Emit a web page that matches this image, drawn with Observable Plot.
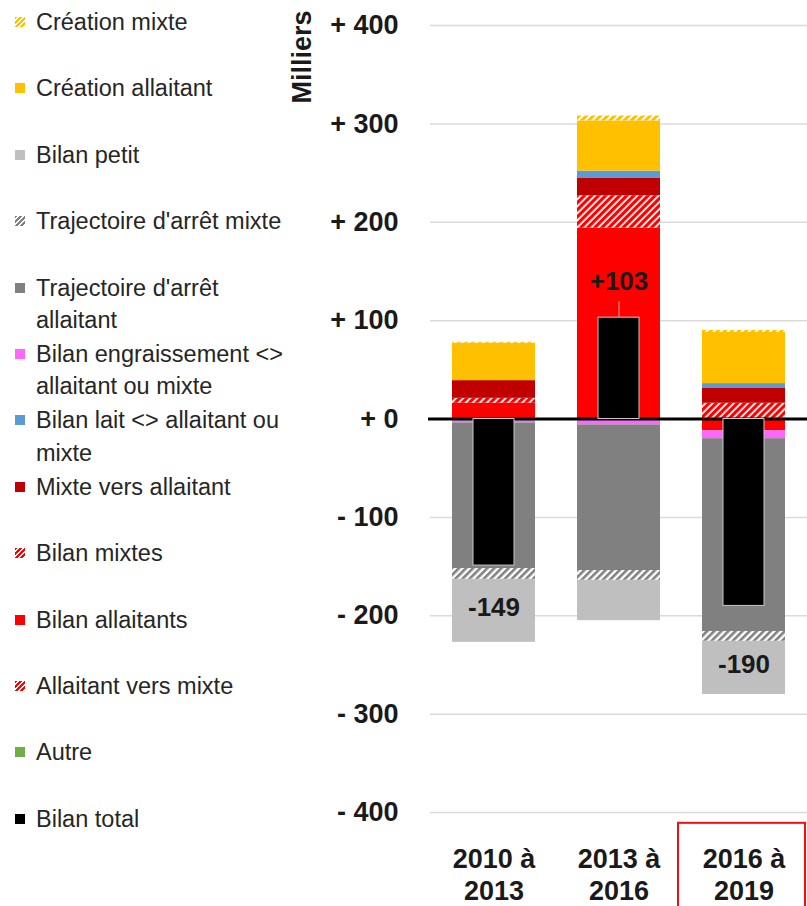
<!DOCTYPE html>
<html>
<head>
<meta charset="utf-8">
<script src="https://cdn.jsdelivr.net/npm/d3@7"></script>
<script src="https://cdn.jsdelivr.net/npm/@observablehq/plot@0.6"></script>
<style>
  html, body { margin: 0; padding: 0; background: #fff; overflow: hidden; }
  #wrap { position: relative; width: 807px; height: 906px; font-family: "Liberation Sans", Arial, sans-serif; }
  #chart { position: absolute; left: 0; top: 0; }
  #legend { position: absolute; left: 0; top: 6px; width: 290px; z-index: 2; }
  .item { position: relative; height: 66.4px; }
  .sw { position: absolute; left: 15px; top: 11px; width: 10px; height: 10px; }
  .lb { position: absolute; left: 36px; top: 0; font-size: 23.5px; line-height: 32.5px; color: #262626; white-space: pre; }
</style>
</head>
<body>
<div id="wrap">
  <div id="chart"></div>
  <div id="legend"></div>
</div>
<script>
// ---- Data (milliers) ----
const periods = ["2010 à 2013", "2013 à 2016", "2016 à 2019"];
const autre              = [0, 0, 0];
const allaitantVersMixte = [0, 0, 0];
const bilanAllaitants    = [16, 194, -12];
const bilanMixtes        = [5, 33, 16];
const mixteVersAllaitant = [18, 18, 15];
const bilanLait          = [-2, 7, 5];
const bilanEngraissement = [-2, -6, -8];
const trajArretAllaitant = [-148, -148, -196];
const trajArretMixte     = [-11, -10, -10];
const bilanPetit         = [-64, -41, -54];
const creationAllaitant  = [38, 51, 52];
const creationMixte      = [1, 5, 2];
const bilanTotal         = [-149, 103, -190];
const yTicks = [-400, -300, -200, -100, 0, 100, 200, 300, 400];
const highlighted = ["2016 à 2019"];
const highlightY = [-411, -500];

// stacking order (first = nearest zero)
const seriesNames = [
  "Autre", "Allaitant vers mixte", "Bilan allaitants", "Bilan mixtes",
  "Mixte vers allaitant", "Bilan lait <> allaitant ou mixte",
  "Bilan engraissement <> allaitant ou mixte", "Trajectoire d'arrêt allaitant",
  "Trajectoire d'arrêt mixte", "Bilan petit", "Création allaitant", "Création mixte"
];
const seriesValues = [
  autre, allaitantVersMixte, bilanAllaitants, bilanMixtes, mixteVersAllaitant,
  bilanLait, bilanEngraissement, trajArretAllaitant, trajArretMixte, bilanPetit,
  creationAllaitant, creationMixte
];

// legend (top to bottom)
const legendNames = [
  "Création mixte", "Création allaitant", "Bilan petit", "Trajectoire d'arrêt mixte",
  "Trajectoire d'arrêt allaitant", "Bilan engraissement <> allaitant ou mixte",
  "Bilan lait <> allaitant ou mixte", "Mixte vers allaitant", "Bilan mixtes",
  "Bilan allaitants", "Allaitant vers mixte", "Autre", "Bilan total"
];
const legendLabels = [
  "Création mixte", "Création allaitant", "Bilan petit", "Trajectoire d'arrêt mixte",
  "Trajectoire d'arrêt\nallaitant", "Bilan engraissement <>\nallaitant ou mixte",
  "Bilan lait <> allaitant ou\nmixte", "Mixte vers allaitant", "Bilan mixtes",
  "Bilan allaitants", "Allaitant vers mixte", "Autre", "Bilan total"
];

// ---- styles ----
const base = {
  "Création mixte": "#FFC000", "Création allaitant": "#FFC000", "Bilan petit": "#BFBFBF",
  "Trajectoire d'arrêt mixte": "#808080", "Trajectoire d'arrêt allaitant": "#808080",
  "Bilan engraissement <> allaitant ou mixte": "#FF66FF",
  "Bilan lait <> allaitant ou mixte": "#5B9BD5", "Mixte vers allaitant": "#C00000",
  "Bilan mixtes": "#FF0000", "Bilan allaitants": "#FF0000", "Allaitant vers mixte": "#FF0000",
  "Autre": "#70AD47", "Bilan total": "#000000"
};
const hatchId = {
  "Création mixte": "hYellow", "Trajectoire d'arrêt mixte": "hGray",
  "Bilan mixtes": "hRed", "Allaitant vers mixte": "hRed"
};
const fillOf = n => hatchId[n] ? `url(#${hatchId[n]})` : base[n];

const rows = [];
periods.forEach((p, i) => seriesNames.forEach((s, k) => rows.push({period: p, series: s, value: seriesValues[k][i]})));
const totals = periods.map((p, i) => ({period: p, value: bilanTotal[i]}));

// label position: positive above total; negative in middle of "Bilan petit" segment
const petitIdx = seriesNames.indexOf("Bilan petit");
const labels = periods.map((p, i) => {
  const t = bilanTotal[i];
  if (t >= 0) return {period: p, total: t, y: t, text: "+" + t};
  let before = 0;
  for (let k = 0; k < petitIdx; k++) if (seriesValues[k][i] < 0) before += seriesValues[k][i];
  return {period: p, total: t, y: before + bilanPetit[i] / 2, text: String(t)};
});
const posLabels = labels.filter(d => d.total >= 0);
const negLabels = labels.filter(d => d.total < 0);

const svg = Plot.plot({
  width: 807, height: 906,
  marginLeft: 430, marginRight: 0, marginTop: 25, marginBottom: 94,
  style: {fontFamily: "'Liberation Sans', Arial, sans-serif", fontSize: "27px", fontWeight: "bold", color: "#1a1a1a", background: "transparent", overflow: "visible"},
  x: {domain: periods, padding: 0, axis: null, label: null},
  y: {domain: [-400, 400], axis: null, label: null},
  color: {type: "ordinal", domain: seriesNames, range: seriesNames.map(fillOf)},
  marks: [
    Plot.gridY(yTicks, {stroke: "#dadada", strokeOpacity: 1, strokeWidth: 1.5}),
    Plot.barY(rows, {x: "period", y: "value", fill: "series", insetLeft: 21, insetRight: 21}),
    Plot.ruleY([0], {stroke: "#000", strokeWidth: 3, insetLeft: -2}),
    Plot.barY(totals, {x: "period", y: "value", fill: "#000", stroke: "#c8c8c8", strokeWidth: 1, insetLeft: 42, insetRight: 42}),
    Plot.ruleX(posLabels, {x: "period", y1: "total", y2: "total", insetTop: -16, stroke: "#f3a3a3", strokeWidth: 1}),
    Plot.text(posLabels, {x: "period", y: "y", dy: -36, text: "text", fontSize: 26, fontWeight: "bold", fill: "#1a1a1a"}),
    Plot.text(negLabels, {x: "period", y: "y", dy: -3, text: "text", fontSize: 26, fontWeight: "bold", fill: "#1a1a1a"}),
    Plot.axisY(yTicks, {tickSize: 0, tickPadding: 32, tickFormat: d => (d >= 0 ? "+ " : "- ") + Math.abs(d), fontSize: 27, fontWeight: "bold", label: null}),
    Plot.axisX(periods, {tickSize: 0, tickPadding: 33, tickFormat: d => d.replace(" à ", " à\n"), lineHeight: 1.185, fontSize: 27, fontWeight: "bold", label: null}),
    Plot.text(["Milliers"], {frameAnchor: "top-left", rotate: -90, textAnchor: "end", lineAnchor: "middle", dx: -128, dy: -15, fontSize: 27, fontWeight: "bold"}),
    Plot.barY(highlighted, {x: d => d, y1: highlightY[0], y2: highlightY[1], fill: "none", stroke: "#ee1111", strokeWidth: 2, insetLeft: -3, insetRight: 1})
  ]
});

const defs = `<defs>
<pattern id="hRed" patternUnits="userSpaceOnUse" width="5" height="5" patternTransform="rotate(45)"><rect width="5" height="5" fill="#fff"/><rect width="3.2" height="5" fill="#FF0000"/></pattern>
<pattern id="hGray" patternUnits="userSpaceOnUse" width="5" height="5" patternTransform="rotate(45)"><rect width="5" height="5" fill="#fff"/><rect width="2.6" height="5" fill="#808080"/></pattern>
<pattern id="hYellow" patternUnits="userSpaceOnUse" width="5" height="5" patternTransform="rotate(45)"><rect width="5" height="5" fill="#fff"/><rect width="3" height="5" fill="#FFC000"/></pattern>
</defs>`;
svg.insertAdjacentHTML("afterbegin", defs);
document.getElementById("chart").appendChild(svg);

// legend
const leg = document.getElementById("legend");
legendNames.forEach((n, i) => {
  const it = document.createElement("div"); it.className = "item";
  const sw = document.createElement("div"); sw.className = "sw";
  sw.style.background = hatchId[n]
    ? `repeating-linear-gradient(135deg, ${base[n]} 0 2px, #fff 2px 3.5px)`
    : base[n];
  const lb = document.createElement("div"); lb.className = "lb";
  lb.textContent = legendLabels[i];
  it.appendChild(sw); it.appendChild(lb); leg.appendChild(it);
});
</script>
</body>
</html>
